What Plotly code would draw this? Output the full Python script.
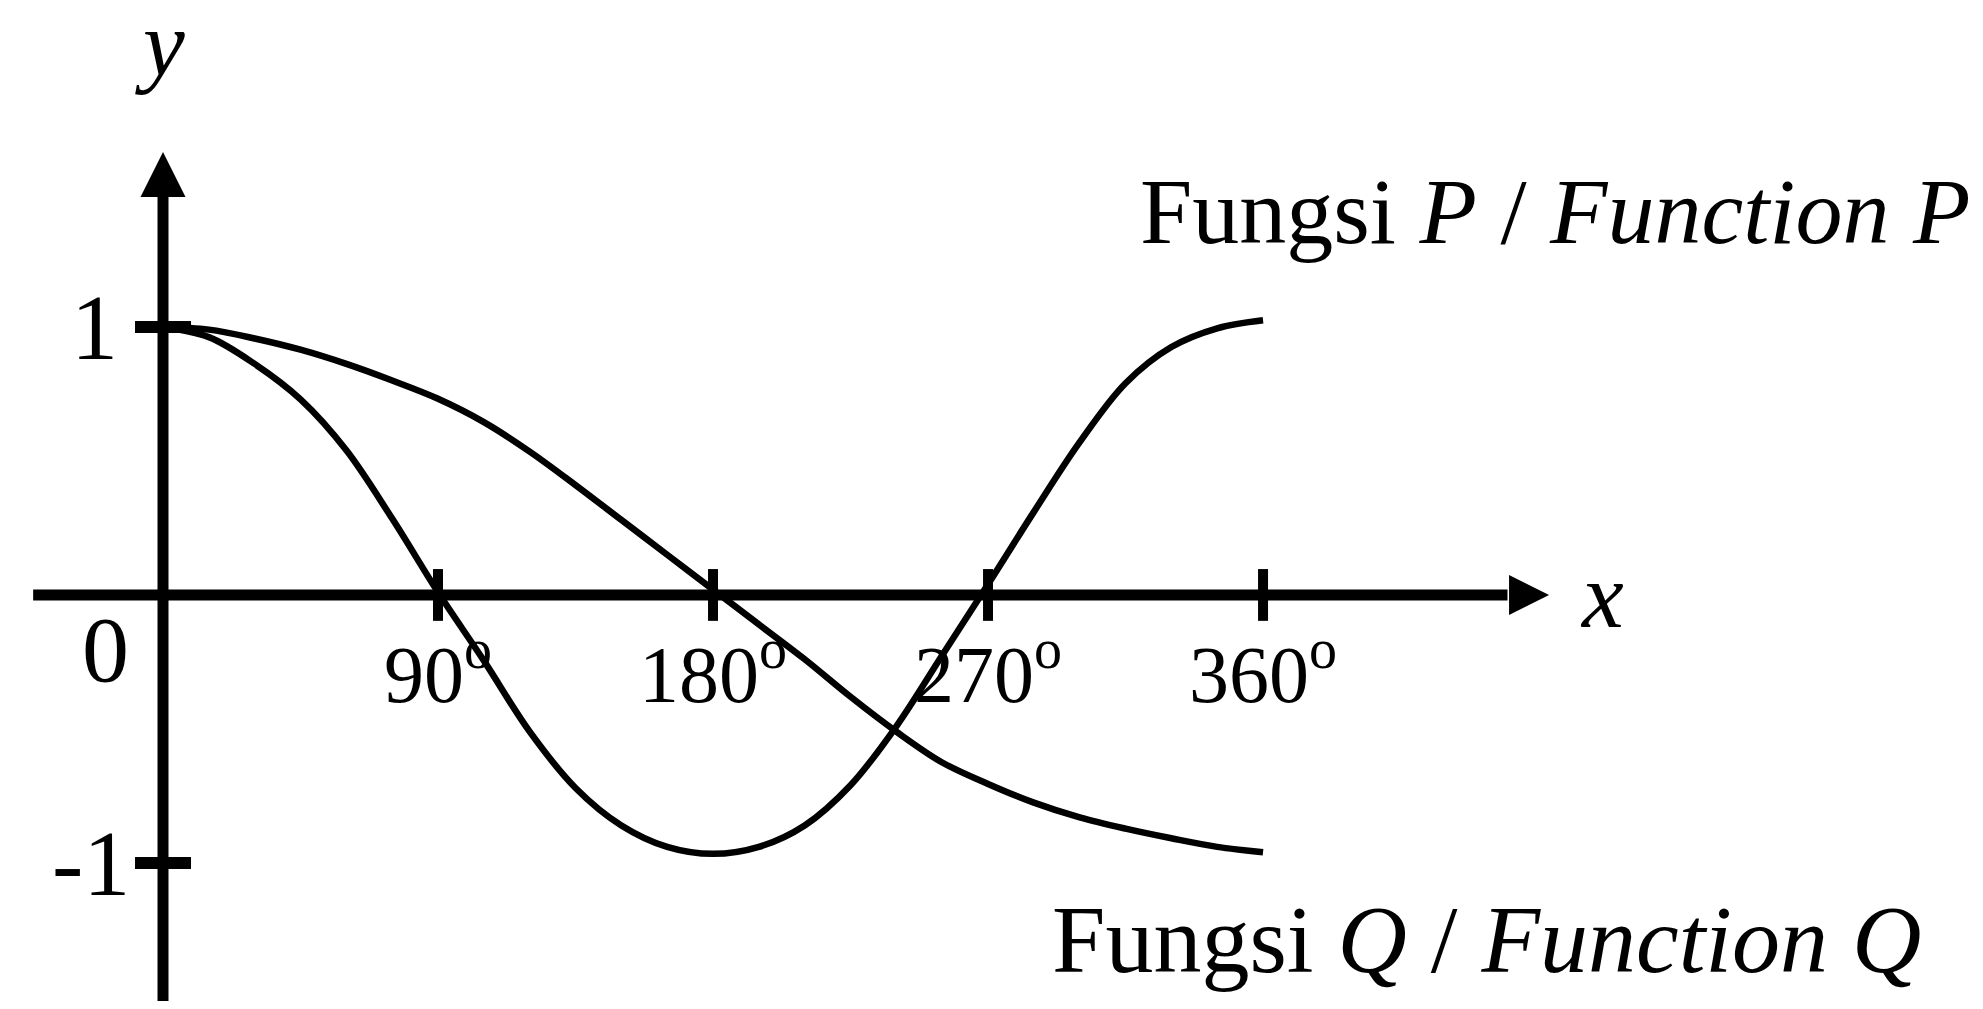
import plotly.graph_objects as go

# curve readings (degrees -> value)
x_deg = [0, 15, 30, 45, 60, 75, 90, 105, 120, 135, 150, 165, 180,
         195, 210, 225, 240, 255, 270, 285, 300, 315, 330, 345, 360]
p_vals = [1.00, 0.962, 0.862, 0.73, 0.54, 0.285, 0.01, -0.245, -0.51, -0.72, -0.86, -0.94, -0.966,
          -0.94, -0.86, -0.71, -0.49, -0.225, 0.04, 0.31, 0.57, 0.79, 0.925, 0.995, 1.025]
q_vals = [1.00, 0.99, 0.957, 0.915, 0.862, 0.80, 0.732, 0.645, 0.535, 0.41, 0.28, 0.15, 0.02,
          -0.11, -0.24, -0.38, -0.51, -0.625, -0.705, -0.775, -0.83, -0.872, -0.908, -0.94, -0.96]

x_ticks = [90, 180, 270, 360]
x_tick_labels = ["90<sup>o</sup>", "180<sup>o</sup>", "270<sup>o</sup>", "360<sup>o</sup>"]
y_ticks = [1, -1]
y_tick_labels = ["1", "-1"]
y_label_x = [-14, -10]

FONT = "Liberation Serif, Times New Roman, serif"
BIG = 94
TICK = 80

fig = go.Figure()

# axis lines
fig.add_shape(type="line", x0=-42.5, x1=440, y0=0, y1=0, line=dict(color="black", width=11))
fig.add_shape(type="line", x0=0, x1=0, y0=-1.7, y1=1.55, line=dict(color="black", width=11))

# curves
fig.add_trace(go.Scatter(x=x_deg, y=p_vals, mode="lines", line=dict(color="black", width=6.5, shape="spline")))
fig.add_trace(go.Scatter(x=x_deg, y=q_vals, mode="lines", line=dict(color="black", width=6.5, shape="spline")))

# arrow heads
fig.add_trace(go.Scatter(x=[0], y=[1.653], mode="markers",
                         marker=dict(symbol="arrow-up", size=45, color="black", line_width=0)))
fig.add_trace(go.Scatter(x=[453.6], y=[0], mode="markers",
                         marker=dict(symbol="arrow-right", size=40, color="black", line_width=0)))

# tick marks
fig.add_trace(go.Scatter(x=x_ticks, y=[0] * len(x_ticks), mode="markers",
                         marker=dict(symbol="line-ns-open", size=37, color="black",
                                     line=dict(width=10, color="black"))))
fig.add_trace(go.Scatter(x=[0] * len(y_ticks), y=y_ticks, mode="markers",
                         marker=dict(symbol="line-ew-open", size=40, color="black",
                                     line=dict(width=12, color="black"))))

# tick labels
for t, lab in zip(x_ticks, x_tick_labels):
    fig.add_annotation(x=t, y=-0.275, text=lab, showarrow=False, xanchor="center", yanchor="middle",
                       font=dict(family=FONT, size=TICK, color="black"))
for t, lab, lx in zip(y_ticks, y_tick_labels, y_label_x):
    fig.add_annotation(x=lx, y=t, text=lab, showarrow=False, xanchor="right", yanchor="middle",
                       font=dict(family=FONT, size=BIG, color="black"))

fig.add_annotation(x=-18.7, y=-0.2, text="0", showarrow=False, xanchor="center", yanchor="middle",
                   font=dict(family=FONT, size=BIG, color="black"))
fig.add_annotation(x=-1, y=2.06, text="<i>y</i>", showarrow=False, xanchor="center", yanchor="middle",
                   font=dict(family=FONT, size=BIG, color="black"))
fig.add_annotation(x=463, y=0.0, text="<i>x</i>", showarrow=False, xanchor="left", yanchor="middle",
                   font=dict(family=FONT, size=BIG, color="black"))

# function labels
fig.add_annotation(x=319.1, y=1.433, text="Fungsi <i>P</i> / <i>Function P</i>", showarrow=False,
                   xanchor="left", yanchor="middle", font=dict(family=FONT, size=BIG, color="black"))
fig.add_annotation(x=290.3, y=-1.284, text="Fungsi <i>Q</i> / <i>Function Q</i>", showarrow=False,
                   xanchor="left", yanchor="middle", font=dict(family=FONT, size=96, color="black"))

# page body keeps an 8px margin, so the figure is 16px smaller than the window
fig.update_layout(
    width=1967, height=993,
    margin=dict(l=0, r=0, t=0, b=0),
    paper_bgcolor="white", plot_bgcolor="white",
    showlegend=False,
    xaxis=dict(range=[-50.73, 593.0], visible=False),
    yaxis=dict(range=[-1.515, 2.190], visible=False),
)

fig.write_html("out.html")
